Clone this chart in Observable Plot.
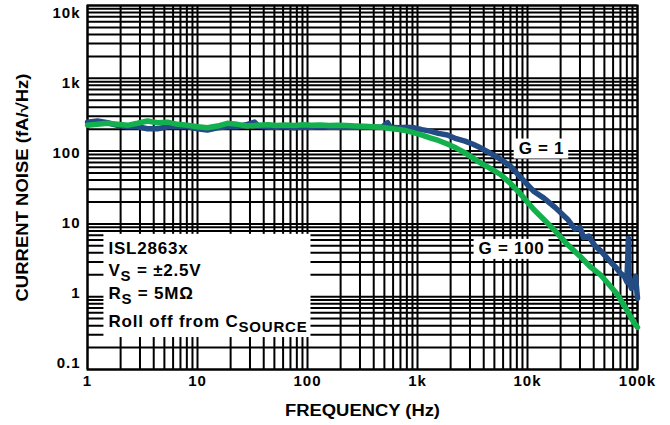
<!DOCTYPE html>
<html><head><meta charset="utf-8">
<script src="https://cdn.jsdelivr.net/npm/d3@7"></script>
<script src="https://cdn.jsdelivr.net/npm/@observablehq/plot@0.6"></script>
<style>
body{margin:0;background:#fff;}
#chart svg{display:block;}
#chart svg text{font-weight:bold;letter-spacing:1px;}
</style></head><body><div id="chart"></div>
<script>
// ---- data ----
const freqG1 = [1,1.23,1.52,1.87,2.31,2.85,3.51,4.33,5.34,6.58,8.1,10,12.3,15.2,18.7,23,28.4,33,36,44,52,63,76,91,109,131,157,189,227,272,327,393,472,535,566,680,800,920,1100,1300,1550,1870,2250,2700,3200,3740,4500,5690,7000,8500,11350,14000,18000,23100,27000,30000,32300,36000,41000,46100,52000,58000,64000,70000,76000,80000,82800,84000,88000,92000,96000,100000];
const noiseG1 = [250,259,245,226,216,216,203,203,216,216,216,203,195,209,216,216,233,250,220,214,212,216,210,214,212,216,213,214,212,215,213,214,212,245,213,210,212,209,197,188,175,166,148,137,124,111,95,77.6,62,45,28.1,22.8,16.6,11.6,8.5,9.0,6.5,6.8,5.0,4.3,3.5,2.9,2.5,2.1,1.9,1.6,6.3,1.6,1.3,1.5,1.9,0.95];
const freqG100 = [1,1.23,1.52,1.87,2.31,2.85,3.51,4.33,5.34,6.58,8.1,10,12.3,15.2,18.7,23,28.4,35,44,52,63,76,91,109,131,157,189,227,272,327,393,472,566,680,800,920,1100,1300,1550,1870,2250,2700,3200,3740,4500,5690,7000,8500,11350,14000,18000,23100,30000,37000,46100,55000,65800,78000,92000,100000];
const noiseG100 = [226,233,241,233,226,241,259,245,250,233,226,216,209,221,241,233,221,226,230,224,228,225,230,226,228,224,226,224,222,220,216,212,205,198,190,179,166,152,140,125,110,95,80,69,59,47.7,36,26.5,15.9,11.6,7.9,5.2,3.6,2.6,2.0,1.47,1.07,0.70,0.45,0.38];

const xTicks = [1,10,100,1000,10000,100000];
const xTickLabels = ["1","10","100","1k","10k","100k"];
const yTicks = [10000,1000,100,10,1,0.1];
const yTickLabels = ["10k","1k","100","10","1","0.1"];

const seriesLabels = ["G = 1","G = 100"];
const labelFreq = [13400, 7160];
const labelNoise = [110, 4.6];

const noteMain = ["ISL2863x","V","R","Roll off from C"];
const noteSub = ["","S","S","SOURCE"];
const noteTail = [""," = ±2.5V"," = 5MΩ",""];
const noteFreq = 1.55;
const noteNoise = [4.61, 2.30, 1.09, 0.455];

const xTitle = "FREQUENCY (Hz)";
const yTitle = "CURRENT NOISE (fA/√Hz)";

// ---- build ----
const blue = "#234b84", green = "#13b04e";
const g1 = freqG1.map((f,i)=>({f, v: noiseG1[i]}));
const g100 = freqG100.map((f,i)=>({f, v: noiseG100[i]}));
const gridX = d3.range(0,5).flatMap(k => d3.range(1,10).map(m => m*Math.pow(10,k))).concat([1e5]);
const gridY = d3.range(-1,4).flatMap(k => d3.range(1,10).map(m => m*Math.pow(10,k))).concat([1e4]);
const yDy = [8, 5.2, 2.4, -0.4, -3.2, -6];

const svg = Plot.plot({
  width: 670, height: 425,
  marginLeft: 87, marginRight: 33, marginTop: 5, marginBottom: 56,
  style: {fontFamily: "'Liberation Sans', Arial, sans-serif", color: "black", background: "white"},
  x: {type: "log", domain: [1, 1e5]},
  y: {type: "log", domain: [0.1, 1e4]},
  marks: [
    Plot.ruleX(gridX, {stroke: "black", strokeWidth: 2}),
    Plot.ruleY(gridY, {stroke: "black", strokeWidth: 2}),
    Plot.frame({stroke: "black", strokeWidth: 2}),
    Plot.line(g1, {x: "f", y: "v", stroke: blue, strokeWidth: 5.5, strokeLinejoin: "round"}),
    Plot.line(g100, {x: "f", y: "v", stroke: green, strokeWidth: 5.5, strokeLinejoin: "round"}),
    Plot.text(d3.range(noteMain.length), {x: () => noteFreq, y: i => noteNoise[i], text: i => noteMain[i], textAnchor: "start", fontSize: 17}),
    Plot.text(d3.range(seriesLabels.length), {x: i => labelFreq[i], y: i => labelNoise[i], text: i => seriesLabels[i], fontSize: 17}),
    Plot.axisX(xTicks, {tickSize: 0, tickPadding: 6, fontSize: 15, label: null, tickFormat: d => xTickLabels[xTicks.indexOf(d)]}),
    ...yTicks.map((t, i) => Plot.axisY([t], {tickSize: 0, tickPadding: 7, fontSize: 15, label: null, dy: yDy[i], tickFormat: () => yTickLabels[i]})),
    Plot.text([xTitle], {frameAnchor: "bottom", dy: 41, lineAnchor: "middle", text: d => d, fontSize: 16}),
    Plot.text([yTitle], {frameAnchor: "left", dx: -65, rotate: -90, textAnchor: "middle", lineAnchor: "middle", text: d => d, fontSize: 16})
  ]
});
document.getElementById("chart").append(svg);

const NS = "http://www.w3.org/2000/svg";
const textGroups = svg.querySelectorAll('g[aria-label="text"]');
const noteG = textGroups[0], gl = textGroups[1], xtG = textGroups[2], ytG = textGroups[3];
// annotation with subscripts
noteG.querySelectorAll("text").forEach((t, i) => {
  t.textContent = "";
  t.style.letterSpacing = "0.8px";
  const a = document.createElementNS(NS, "tspan"); a.textContent = noteMain[i]; t.append(a);
  if (noteSub[i]) { const s = document.createElementNS(NS, "tspan"); s.textContent = noteSub[i]; s.setAttribute("dy", "5"); s.setAttribute("font-size", "15"); t.append(s); }
  if (noteTail[i]) { const s = document.createElementNS(NS, "tspan"); s.textContent = noteTail[i]; s.setAttribute("dy", "-5"); t.append(s); }
});
{
  const bb = noteG.getBBox();
  const r = document.createElementNS(NS, "rect");
  r.setAttribute("x", bb.x - 5); r.setAttribute("y", bb.y - 5);
  r.setAttribute("width", bb.width + 8); r.setAttribute("height", bb.height + 7);
  r.setAttribute("fill", "white");
  noteG.insertBefore(r, noteG.firstChild);
}
// white boxes behind series labels
gl.querySelectorAll("text").forEach(t => {
  t.style.letterSpacing = "0.7px";
  const bb = t.getBBox();
  const r = document.createElementNS(NS, "rect");
  r.setAttribute("x", bb.x - 5); r.setAttribute("y", bb.y);
  r.setAttribute("width", bb.width + 9); r.setAttribute("height", bb.height + 1);
  r.setAttribute("fill", "white");
  if (t.getAttribute("transform")) r.setAttribute("transform", t.getAttribute("transform"));
  gl.insertBefore(r, t);
});
// stretched titles
[[xtG, 155], [ytG, 228]].forEach(([g, len]) => {
  const t = g.querySelector("text");
  t.style.letterSpacing = "0px";
  t.setAttribute("textLength", len);
  t.setAttribute("lengthAdjust", "spacingAndGlyphs");
});
</script></body></html>
